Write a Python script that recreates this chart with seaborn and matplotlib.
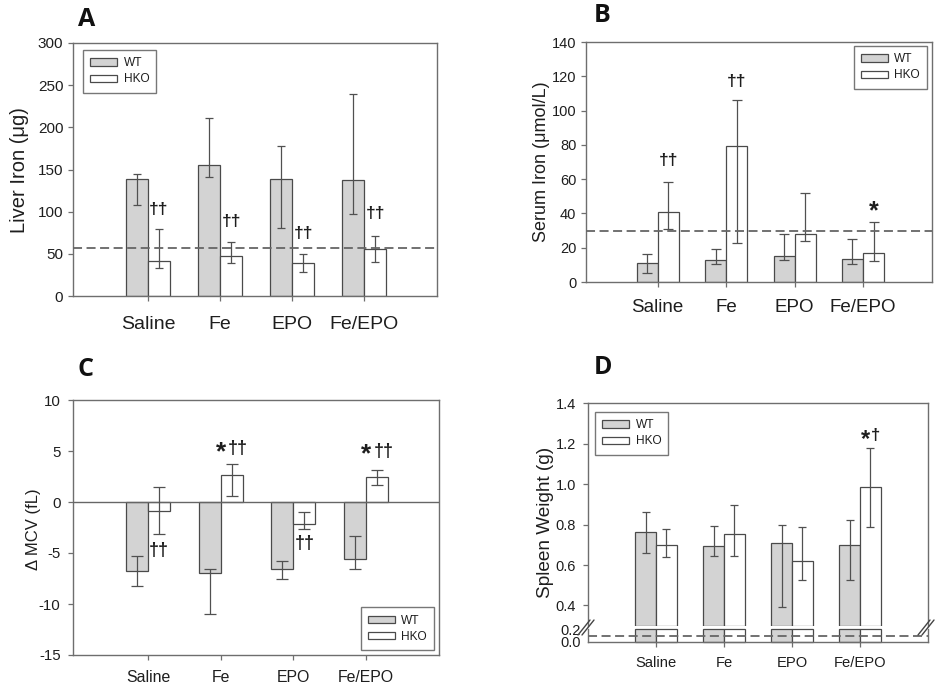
import numpy as np
import pandas as pd
import matplotlib
matplotlib.use("Agg")
import matplotlib.pyplot as plt
import seaborn as sns
from matplotlib.lines import Line2D

# ---------------- data ----------------
categories = ["Saline", "Fe", "EPO", "Fe/EPO"]
groups = ["WT", "HKO"]

# A: liver iron (ug)
liver_wt = [139, 155, 139, 137]
liver_wt_lo = [108, 141, 81, 97]
liver_wt_hi = [145, 211, 178, 239]
liver_hko = [41, 47, 39, 56]
liver_hko_lo = [33, 39, 28, 40]
liver_hko_hi = [79, 64, 50, 71]
liver_ref = 57
liver_marks = ["††", "††", "††", "††"]
liver_mark_y = [102, 88, 74, 98]

# B: serum iron (umol/L)
serum_wt = [11.3, 12.9, 15.2, 13.2]
serum_wt_lo = [5.3, 10.7, 13.0, 10.5]
serum_wt_hi = [16.2, 19.5, 28.0, 25.3]
serum_hko = [40.7, 79.4, 28.0, 17.1]
serum_hko_lo = [31.0, 22.8, 24.1, 12.5]
serum_hko_hi = [58.2, 105.9, 52.0, 35.0]
serum_ref = 30
serum_marks = ["††", "††", "", "*"]
serum_mark_y = [71, 117, 0, 45]

# C: delta MCV (fL)
mcv_wt = [-6.75, -6.98, -6.56, -5.6]
mcv_wt_lo = [-8.26, -11.0, -7.5, -6.56]
mcv_wt_hi = [-5.28, -6.53, -5.74, -3.32]
mcv_hko = [-0.93, 2.6, -2.11, 2.5]
mcv_hko_lo = [-3.09, 0.6, -2.63, 1.62]
mcv_hko_hi = [1.49, 3.75, -1.0, 3.13]
mcv_marks = ["††", "*††", "††", "*††"]
mcv_mark_y = [-4.8, 5.2, -4.1, 5.0]

# D: spleen weight (g)
spleen_wt = [0.761, 0.692, 0.71, 0.698]
spleen_wt_lo = [0.659, 0.644, 0.392, 0.527]
spleen_wt_hi = [0.861, 0.795, 0.799, 0.823]
spleen_hko = [0.701, 0.756, 0.619, 0.986]
spleen_hko_lo = [0.639, 0.647, 0.524, 0.787]
spleen_hko_hi = [0.779, 0.898, 0.79, 1.178]
spleen_ref = 0.1
spleen_marks = ["", "", "", "*†"]
spleen_mark_y = [0, 0, 0, 1.24]

# ---------------- style ----------------
sns.set_theme(style="white")
plt.rcParams['font.family'] = ['Liberation Sans', 'DejaVu Sans']
plt.rcParams['axes.unicode_minus'] = False

W, H = 937, 685
fig = plt.figure(figsize=(W / 100, H / 100), dpi=100)

BAR_FILL = {"WT": "#d3d3d3", "HKO": "#ffffff"}
EDGE = "#4a4a4a"
SPINE = "#6e6e6e"
ERR = "#505050"
TXT = "#1e1e1e"


def px_axes(x0, y0, x1, y1):
    return fig.add_axes([x0 / W, 1 - y1 / H, (x1 - x0) / W, (y1 - y0) / H])


def make_df(wt, hko):
    return pd.DataFrame({
        "category": categories * 2,
        "group": ["WT"] * len(categories) + ["HKO"] * len(categories),
        "value": list(wt) + list(hko),
    })


def draw_bars(ax, wt, hko, width):
    sns.barplot(data=make_df(wt, hko), x="category", y="value", hue="group",
                order=categories, hue_order=groups, palette=BAR_FILL,
                saturation=1, width=width, edgecolor=EDGE, linewidth=0.9,
                errorbar=None, ax=ax)
    return list(ax.containers)


def draw_err(ax, conts, vals, los, his, capsize):
    for cont, v, lo, hi in zip(conts, vals, los, his):
        xs = [p.get_x() + p.get_width() / 2 for p in cont.patches]
        v = np.asarray(v, float)
        ax.errorbar(xs, v, yerr=[v - np.asarray(lo), np.asarray(hi) - v],
                    fmt='none', ecolor=ERR, elinewidth=0.9, capsize=capsize,
                    capthick=0.9, zorder=5)


def marks(ax, conts, labels, ys, size, star_size=None):
    star_size = star_size or size * 1.35
    for p, lab, y in zip(conts[1].patches, labels, ys):
        if not lab:
            continue
        x = p.get_x() + p.get_width() / 2
        if lab.startswith("*") and len(lab) > 1:
            rest = lab[1:]
            if len(rest) > 1:
                dag_dx, star_dx = 4.5, -8.0
            else:
                dag_dx, star_dx = 4.0, -3.5
            ax.annotate(rest, (x, y), xytext=(dag_dx, 0), textcoords='offset points',
                        ha='center', va='center', fontsize=size, fontweight='bold',
                        color=TXT, zorder=6)
            ax.annotate("*", (x, y), xytext=(star_dx, -2.5),
                        textcoords='offset points', ha='center', va='center',
                        fontsize=star_size, fontweight='bold', color=TXT, zorder=6)
        elif lab == "*":
            ax.annotate("*", (x, y), xytext=(0, -star_size * 0.25),
                        textcoords='offset points', ha='center', va='center',
                        fontsize=star_size, fontweight='bold', color=TXT, zorder=6)
        else:
            ax.text(x, y, lab, ha='center', va='center', fontsize=size,
                    fontweight='bold', color=TXT, zorder=6)


def style(ax, xsize, ysize, xpad, ypad):
    for s in ax.spines.values():
        s.set_visible(True)
        s.set_color(SPINE)
        s.set_linewidth(1.0)
    ax.tick_params(axis='both', direction='out', length=3.5, width=0.9,
                   color=SPINE, labelcolor=TXT, bottom=True, left=True)
    ax.tick_params(axis='x', labelsize=xsize, pad=xpad)
    ax.tick_params(axis='y', labelsize=ysize, pad=ypad)
    ax.set_xlabel("")
    ax.set_ylabel("")


def legend(ax, loc, anchor):
    leg = ax.legend(loc=loc, bbox_to_anchor=anchor, fontsize=8.6, frameon=True,
                    fancybox=False, edgecolor="#555555", handlelength=2.25,
                    handleheight=0.55, labelspacing=0.35, borderpad=0.6,
                    handletextpad=0.55, borderaxespad=0)
    leg.get_frame().set_linewidth(1.0)
    for t in leg.get_texts():
        t.set_color(TXT)


def ylabel(x, y, text, size):
    fig.text(x / W, 1 - y / H, text, rotation=90, ha='center', va='center',
             fontsize=size, color=TXT)


def letter(x, y, text):
    fig.text(x / W, 1 - y / H, text, ha='center', va='center', fontsize=18,
             fontweight='bold', family=['Open Sans', 'DejaVu Sans'], color='#111111')


# ---------------- A ----------------
axA = px_axes(73, 43, 437, 296)
cA = draw_bars(axA, liver_wt, liver_hko, 0.61)
draw_err(axA, cA, [liver_wt, liver_hko], [liver_wt_lo, liver_hko_lo],
         [liver_wt_hi, liver_hko_hi], 2.8)
axA.axhline(liver_ref, color="#666666", lw=1.3, ls=(0, (5, 2.5)), zorder=7)
marks(axA, cA, liver_marks, liver_mark_y, 12.5)
axA.set_xlim(-1.04, 4.007)
axA.set_ylim(0, 300)
axA.set_yticks(np.arange(0, 301, 50))
style(axA, 14, 11, 11, 3.5)
legend(axA, 'upper left', ((83 - 73) / 364, (296 - 50) / 253))
ylabel(20, 170, "Liver Iron (μg)", 14.5)
letter(87, 20, "A")

# ---------------- B ----------------
axB = px_axes(586, 42, 932, 282)
cB = draw_bars(axB, serum_wt, serum_hko, 0.614)
draw_err(axB, cB, [serum_wt, serum_hko], [serum_wt_lo, serum_hko_lo],
         [serum_wt_hi, serum_hko_hi], 3.5)
axB.axhline(serum_ref, color="#666666", lw=1.3, ls=(0, (5, 2.5)), zorder=7)
marks(axB, cB, serum_marks, serum_mark_y, 12.5, star_size=18)
axB.set_xlim(-1.047, 4.008)
axB.set_ylim(0, 140)
axB.set_yticks(np.arange(0, 141, 20))
style(axB, 13.5, 10.5, 9, 3.5)
legend(axB, 'upper right', ((927 - 586) / 346, (282 - 46) / 240))
ylabel(542, 162, "Serum Iron (μmol/L)", 13)
letter(602, 15, "B")

# ---------------- C ----------------
axC = px_axes(73, 400, 439, 655)
cC = draw_bars(axC, mcv_wt, mcv_hko, 0.605)
draw_err(axC, cC, [mcv_wt, mcv_hko], [mcv_wt_lo, mcv_hko_lo],
         [mcv_wt_hi, mcv_hko_hi], 4)
axC.axhline(0, color="#666666", lw=1.0, zorder=4)
marks(axC, cC, mcv_marks, mcv_mark_y, 13, star_size=19)
axC.set_xlim(-1.03, 4.0)
axC.set_ylim(-15, 10)
axC.set_yticks(np.arange(-15, 11, 5))
style(axC, 11.4, 10.8, 7.5, 5.5)
legend(axC, 'lower right', ((434 - 73) / 366, (655 - 650) / 255))
ylabel(34, 529, "Δ MCV (fL)", 12)
letter(86, 369, "C")

# ---------------- D (broken axis) ----------------
axDt = px_axes(588, 403.3, 928, 625.7)
axDb = px_axes(588, 629.3, 928, 641.7)
brk_hi, brk_lo = 0.3, 0.2

cDt = draw_bars(axDt, spleen_wt, spleen_hko, 0.61)
for cont in cDt:
    for p in cont.patches:
        h = p.get_height()
        p.set_y(brk_hi)
        p.set_height(h - brk_hi)
draw_err(axDt, cDt, [spleen_wt, spleen_hko], [spleen_wt_lo, spleen_hko_lo],
         [spleen_wt_hi, spleen_hko_hi], 3.2)
marks(axDt, cDt, spleen_marks, spleen_mark_y, 12, star_size=17)
axDt.set_xlim(-1.0, 4.0)
axDt.set_ylim(brk_hi, 1.4)
axDt.set_yticks([0.4, 0.6, 0.8, 1.0, 1.2, 1.4])
axDt.set_yticklabels(["0.4", "0.6", "0.8", "1.0", "1.2", "1.4"])
style(axDt, 10.6, 10.5, 7, 5)
axDt.spines['bottom'].set_visible(False)
axDt.tick_params(axis='x', bottom=False, labelbottom=False)
legend(axDt, 'upper left', ((595 - 588) / 340, (625.7 - 412) / 222.4))

cDb = draw_bars(axDb, spleen_wt, spleen_hko, 0.61)
for cont in cDb:
    for p in cont.patches:
        p.set_height(min(p.get_height(), brk_lo))
        p.set_clip_on(False)
if axDb.get_legend() is not None:
    axDb.get_legend().remove()
axDb.axhline(spleen_ref, color="#666666", lw=1.3, ls=(0, (5, 2.5)), zorder=7)
axDb.set_xlim(-1.0, 4.0)
axDb.set_ylim(0, brk_lo)
axDb.set_yticks([0.0, 0.2])
axDb.set_yticklabels(["0.0", "0.2"])
style(axDb, 10.6, 10.5, 7, 5)
axDb.spines['top'].set_visible(False)
axDb.tick_params(axis='y', length=0)
ylabel(545.5, 522.5, "Spleen Weight (g)", 13.7)
letter(603, 368, "D")

# break marks
for bx in (588, 928):
    for dx in (-3, 1):
        fig.add_artist(Line2D([(bx - 7 + dx) / W, (bx + 5 + dx) / W],
                              [1 - 635 / H, 1 - 620 / H], color="#444444", lw=1.0))

fig.savefig("out.png", dpi=100, facecolor="white")
